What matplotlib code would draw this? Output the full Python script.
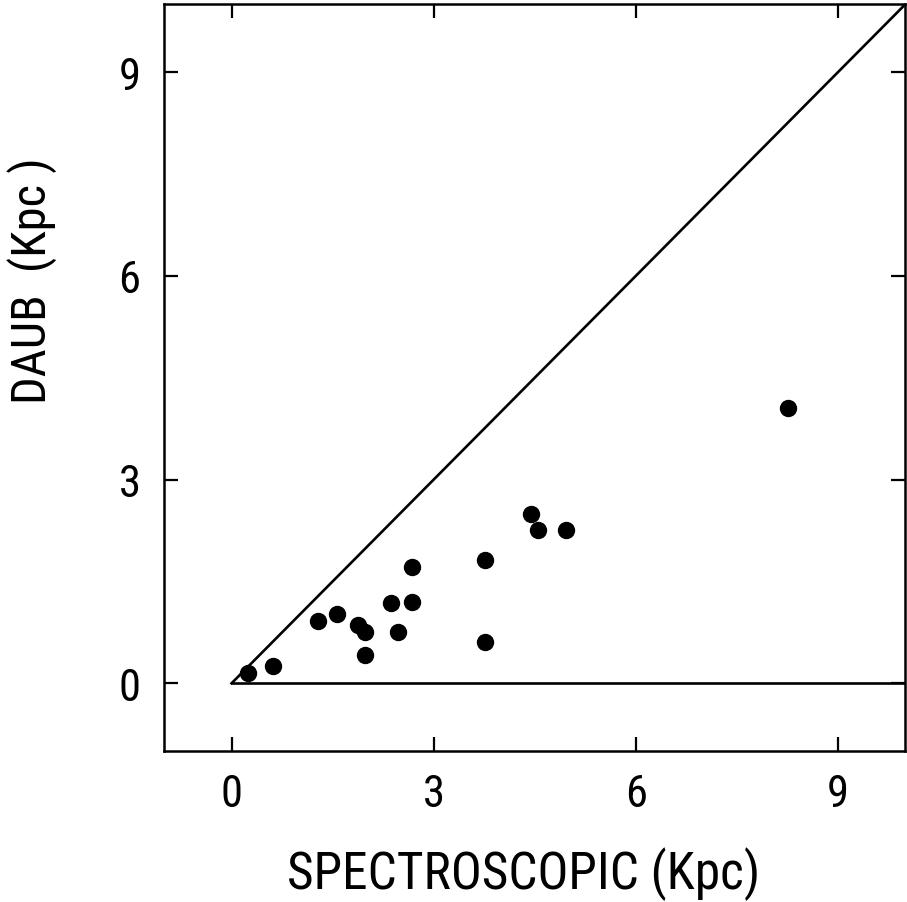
import numpy as np
import matplotlib.pyplot as plt

# spectroscopic vs DAUB distances (Kpc)
spec = [0.25, 0.61, 1.28, 1.57, 1.87, 1.98, 1.98, 2.37, 2.47, 2.68, 2.68,
        3.76, 3.76, 4.44, 4.55, 4.97, 8.26]
daub = [0.15, 0.25, 0.92, 1.02, 0.86, 0.75, 0.41, 1.19, 0.75, 1.20, 1.72,
        1.81, 0.61, 2.50, 2.26, 2.26, 4.06]
ticks = [0, 3, 6, 9]

plt.rcParams['font.family'] = ['Roboto Condensed', 'Archivo Narrow', 'PT Sans Narrow',
                               'Liberation Sans Narrow', 'Liberation Sans']

fig = plt.figure(figsize=(9.07, 9.03), dpi=100)
ax = fig.add_axes([0.181, 0.167, 0.817, 0.827])

# reference lines: one-to-one and zero
ax.plot([0, 10], [0, 10], color='black', linewidth=1.9)
ax.plot([0, 10], [0, 0], color='black', linewidth=1.9)
ax.plot(spec, daub, 'o', color='black', markersize=11.5)

ax.set_xlim(-1, 10)
ax.set_ylim(-1, 10)
ax.set_xticks(ticks)
ax.set_yticks(ticks)
ax.tick_params(direction='in', length=10, width=1.6, top=True, right=True,
               labelsize=32)
ax.tick_params(axis='x', pad=16)
ax.tick_params(axis='y', pad=17)
for s in ax.spines.values():
    s.set_linewidth(1.8)

ax.set_xlabel('SPECTROSCOPIC (Kpc)', fontsize=37, va='top')
ax.xaxis.set_label_coords(0.4845, -0.128)
ax.set_ylabel('DAUB  (Kpc )', fontsize=35)
ax.yaxis.set_label_coords(-0.144, 0.631)

fig.savefig('out.png', dpi=100)
